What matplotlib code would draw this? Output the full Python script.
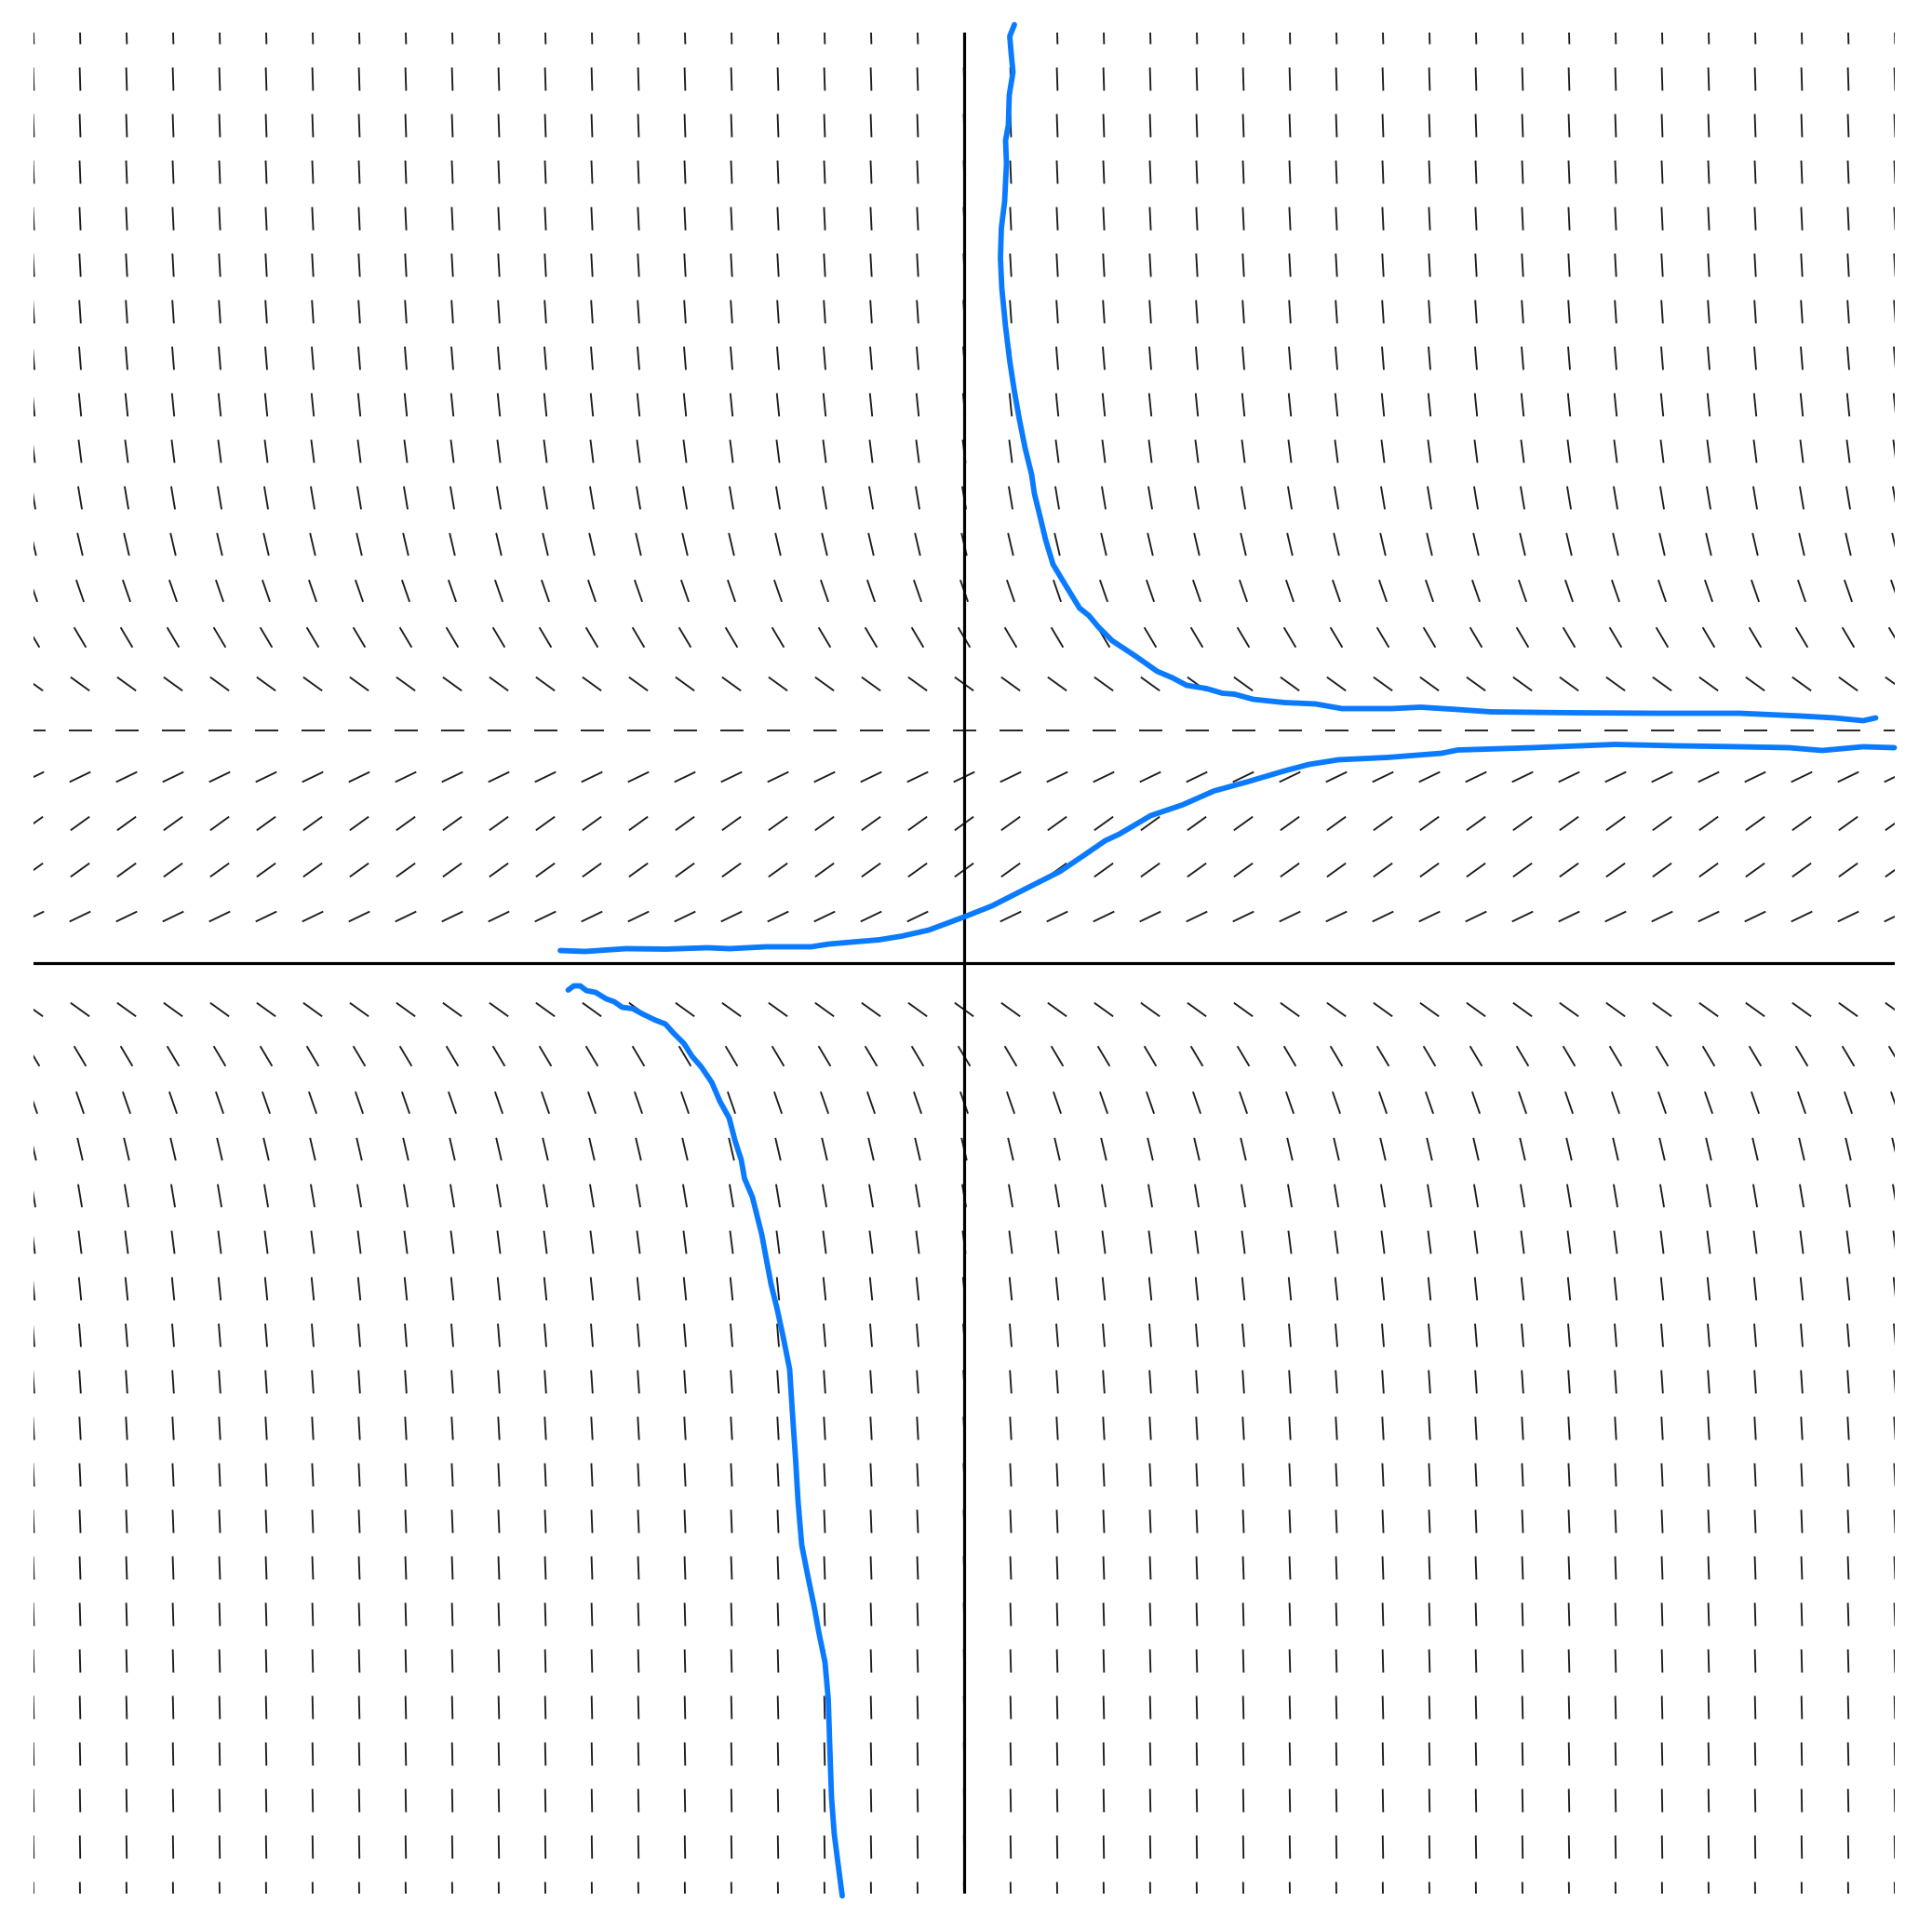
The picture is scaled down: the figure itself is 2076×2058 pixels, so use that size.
import numpy as np
import matplotlib
matplotlib.use('Agg')
import matplotlib.pyplot as plt
from matplotlib.collections import LineCollection

# slope field dy/dx = K * y * (M - y), grid of integer points
K = 0.12
M = 5
grid_x = np.arange(-20, 21)
grid_y = np.arange(-20, 21)
SEG_LEN = 0.5

# hand drawn solution curves
upper_x = [1.08, 0.98, 1.01, 1.05, 0.97, 0.95, 0.89, 0.91, 0.87, 0.80, 0.78, 0.81,
           0.89, 0.98, 1.08, 1.18, 1.31, 1.45, 1.51, 1.65, 1.75, 1.91, 2.15, 2.48,
           2.68, 2.88, 3.18, 3.68, 4.15, 4.48, 4.78, 5.21, 5.55, 5.81, 6.21, 6.88,
           7.55, 8.12, 9.19, 9.81, 10.61, 11.32, 13.10, 14.88, 16.66, 17.99, 18.70,
           19.32, 19.59]
upper_y = [20.17, 19.92, 19.56, 19.15, 18.66, 18.01, 17.68, 17.19, 16.37, 15.80,
           15.15, 14.50, 13.68, 12.94, 12.29, 11.72, 11.07, 10.50, 10.09, 9.52, 9.10,
           8.57, 8.17, 7.63, 7.47, 7.23, 6.93, 6.60, 6.27, 6.13, 5.97, 5.90, 5.80,
           5.78, 5.67, 5.60, 5.57, 5.47, 5.47, 5.50, 5.45, 5.40, 5.38, 5.37, 5.37,
           5.31, 5.27, 5.21, 5.27]

middle_x = [-8.68, -8.15, -7.27, -6.40, -5.52, -5.04, -4.26, -3.29, -2.90, -2.31,
            -1.83, -1.34, -0.76, 0.02, 0.60, 1.19, 2.06, 2.55, 3.03, 3.33, 4.01,
            4.69, 5.37, 6.10, 6.88, 7.41, 8.04, 9.10, 10.26, 10.61, 12.21, 13.99,
            15.32, 16.66, 17.72, 18.44, 19.32, 19.99]
middle_y = [0.27, 0.25, 0.31, 0.30, 0.33, 0.31, 0.35, 0.35, 0.41, 0.46, 0.50, 0.58,
            0.71, 1.00, 1.23, 1.53, 1.97, 2.30, 2.63, 2.77, 3.17, 3.40, 3.70, 3.90,
            4.13, 4.27, 4.37, 4.42, 4.51, 4.58, 4.63, 4.70, 4.67, 4.65, 4.63, 4.57,
            4.65, 4.63]

lower_x = [-8.51, -8.39, -8.25, -8.12, -7.92, -7.69, -7.52, -7.35, -7.12, -6.92,
           -6.65, -6.42, -6.25, -6.02, -5.85, -5.65, -5.42, -5.25, -5.05, -4.92,
           -4.79, -4.72, -4.55, -4.45, -4.35, -4.25, -4.15, -4.02, -3.89, -3.75,
           -3.69, -3.62, -3.57, -3.49, -3.35, -3.22, -3.12, -2.99, -2.92, -2.89,
           -2.85, -2.79, -2.72, -2.62]
lower_y = [-0.58, -0.49, -0.49, -0.59, -0.63, -0.77, -0.83, -0.95, -0.98, -1.09,
           -1.22, -1.31, -1.50, -1.73, -2.00, -2.23, -2.57, -2.97, -3.33, -3.83,
           -4.23, -4.63, -5.03, -5.43, -5.83, -6.37, -6.90, -7.43, -8.03, -8.73,
           -9.67, -10.70, -11.56, -12.51, -13.22, -13.85, -14.40, -15.03, -15.82,
           -16.76, -17.94, -18.73, -19.28, -20.05]

CURVE_COLOR = '#0a7aff'

fig = plt.figure(figsize=(20.76, 20.58), dpi=100)
ax = fig.add_axes([36 / 2076, 23 / 2058, 2000 / 2076, 2000 / 2058])

# direction field segments
X, Y = np.meshgrid(grid_x, grid_y)
S = K * Y * (M - Y)
norm = np.sqrt(1 + S ** 2)
dx = 0.5 * SEG_LEN / norm
dy = 0.5 * SEG_LEN * S / norm
segs = np.stack([np.stack([X - dx, Y - dy], axis=-1),
                 np.stack([X + dx, Y + dy], axis=-1)], axis=-2).reshape(-1, 2, 2)
ax.add_collection(LineCollection(segs, colors='#1c1c1c', linewidths=1.35, zorder=1))

# axes lines
ax.axhline(0, color='black', lw=2.3, zorder=2)
ax.axvline(0, color='black', lw=2.3, zorder=2)

for cx, cy in [(upper_x, upper_y), (middle_x, middle_y), (lower_x, lower_y)]:
    ax.plot(cx, cy, color=CURVE_COLOR, lw=4.2, solid_capstyle='round',
            solid_joinstyle='round', zorder=3, clip_on=False)

ax.set_xlim(-20, 20)
ax.set_ylim(-20, 20)
ax.axis('off')

fig.savefig('out.png', dpi=100, facecolor='white')
